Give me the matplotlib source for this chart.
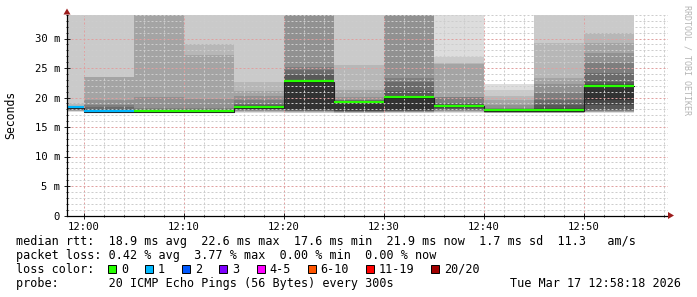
import matplotlib
matplotlib.use("Agg")
import matplotlib.pyplot as plt
from matplotlib.patches import Polygon, Rectangle
from matplotlib.ticker import MultipleLocator
import numpy as np

# ---------------- data ----------------
# segment start / end in minutes after 12:00 (300 s steps)
seg_start = [-1.7, 0, 5, 10, 15, 20, 25, 30, 35, 40, 45, 50]
seg_end = [0, 5, 10, 15, 20, 25, 30, 35, 40, 45, 50, 55]
median_rtt = [18.3, 17.6, 17.6, 17.6, 18.3, 22.6, 19.2, 20.0, 18.5, 17.7, 17.7, 21.9]
loss_count = [1, 1, 0, 0, 0, 0, 0, 0, 0, 0, 0, 0]

# 20 sorted ping rtts (ms) per step
p_1158 = [17.6, 17.65, 17.7, 17.75, 17.8, 17.85, 17.9, 18.0, 18.1, 18.2,
          18.33, 18.35, 18.38, 18.4, 18.45, 18.5, 18.6, 19.1, 35, 36]
p_1200 = [17.3, 17.35, 17.4, 17.4, 17.45, 17.45, 17.5, 17.5, 17.55, 17.6,
          17.85, 17.95, 18.1, 18.4, 18.7, 19.5, 23.4, 23.5, 35, 36]
p_1205 = [17.3, 17.35, 17.4, 17.4, 17.45, 17.45, 17.5, 17.5, 17.55, 17.6,
          17.7, 17.8, 17.9, 18.0, 18.2, 20.0, 35, 35, 36, 36]
p_1210 = [17.3, 17.35, 17.4, 17.4, 17.45, 17.45, 17.5, 17.5, 17.55, 17.6,
          17.7, 17.8, 17.9, 18.0, 18.2, 19.7, 27.2, 29.0, 35, 36]
p_1215 = [17.4, 17.55, 17.6, 17.7, 17.75, 17.8, 17.9, 18.0, 18.1, 18.2,
          18.4, 18.5, 18.7, 18.9, 19.6, 20.3, 21.1, 22.7, 35, 36]
p_1220 = [17.3, 17.45, 17.55, 17.6, 17.65, 17.7, 17.75, 17.8, 17.9, 18.0,
          22.8, 23.0, 23.8, 24.7, 25.1, 35, 35, 35, 36, 36]
p_1225 = [17.3, 17.4, 17.45, 17.5, 17.55, 17.6, 17.65, 17.7, 17.75, 17.8,
          19.3, 19.4, 19.45, 19.5, 19.6, 20.0, 21.3, 25.5, 35, 36]
p_1230 = [17.35, 17.45, 17.5, 17.55, 17.6, 17.65, 17.7, 17.75, 17.8, 17.9,
          20.1, 20.25, 21.1, 22.7, 23.25, 35, 35, 35, 36, 36]
p_1235 = [17.4, 17.5, 17.6, 17.65, 17.7, 17.8, 17.9, 18.0, 18.2, 18.4,
          18.7, 18.8, 18.9, 19.0, 20.0, 20.1, 25.7, 25.8, 26.9, 36]
p_1240 = [17.3, 17.35, 17.4, 17.45, 17.5, 17.5, 17.55, 17.6, 17.65, 17.7,
          17.8, 17.85, 17.9, 18.0, 18.2, 18.7, 19.5, 20.25, 21.3, 22.3]
p_1245 = [17.3, 17.35, 17.4, 17.45, 17.5, 17.5, 17.55, 17.6, 17.65, 17.7,
          18.0, 18.2, 18.7, 19.6, 20.7, 22.3, 23.25, 29.2, 35, 36]
p_1250 = [17.4, 17.5, 17.55, 17.6, 17.65, 17.7, 17.8, 17.9, 18.7, 19.6,
          22.1, 22.3, 22.7, 24.1, 25.8, 27.5, 29.2, 31.0, 35, 36]
pings = [p_1158, p_1200, p_1205, p_1210, p_1215, p_1220,
         p_1225, p_1230, p_1235, p_1240, p_1245, p_1250]

x_ticks = [0, 10, 20, 30, 40, 50]
x_labels = ["12:00", "12:10", "12:20", "12:30", "12:40", "12:50"]
y_ticks = [0, 5, 10, 15, 20, 25, 30]
y_labels = ["0", "5 m", "10 m", "15 m", "20 m", "25 m", "30 m"]

loss_labels = ["0", "1", "2", "3", "4-5", "6-10", "11-19", "20/20"]
loss_colors = ["#26ff00", "#00b8ff", "#0059ff", "#7e00ff",
               "#ff00ff", "#ff5500", "#ff0000", "#a10000"]

rtt_avg, rtt_max, rtt_min, rtt_now, rtt_sd, rtt_ams = 18.9, 22.6, 17.6, 21.9, 1.7, 11.3
loss_avg, loss_max, loss_min, loss_now = 0.42, 3.77, 0.00, 0.00
probe_text = "20 ICMP Echo Pings (56 Bytes) every 300s"
date_text = "Tue Mar 17 12:58:18 2026"

# ---------------- figure ----------------
W, H = 697, 297
MONO = "DejaVu Sans Mono"
fig = plt.figure(figsize=(W / 100, H / 100), dpi=100)
fig.patch.set_facecolor("white")

def fx(px):
    return px / W

def fy(py):
    return 1 - py / H

L, R, T, B = 67, 668, 14.5, 215.5
ax = fig.add_axes([fx(L), fy(B), fx(R - L), (B - T) / H])
ax.set_xlim(-1.7, 58.4)
ax.set_ylim(0, (B - T) / 5.9)
ax.set_facecolor("white")

starts = np.array(seg_start, dtype=float)
widths = np.array(seg_end, dtype=float) - starts
P = np.array(pings, dtype=float)

# smoke: band i covers ping[i] .. ping[19-i]
half = 10
for i in range(half):
    g = int(190 / half * (half - (i + 1))) + 50
    col = "#%02x%02x%02x" % (g, g, g)
    lo = P[:, i]
    hi = P[:, 19 - i]
    ax.bar(starts, hi - lo, bottom=lo, width=widths, align="edge",
           color=col, linewidth=0, zorder=1 + i * 0.01)

# median: dark step line + colored band by loss
xs = list(seg_start) + [seg_end[-1]]
ys = list(median_rtt) + [median_rtt[-1]]
ax.step(xs, ys, where="post", color="#202020", lw=0.8, zorder=3)
seg_cols = [loss_colors[min(l, 4)] if l < 4 else loss_colors[4] for l in loss_count]
ax.hlines(np.array(median_rtt) + 0.12, seg_start, seg_end, colors=seg_cols,
          lw=1.6, zorder=4)

# grid
ax.set_xticks(x_ticks)
ax.set_xticklabels(x_labels)
ax.set_yticks(y_ticks)
ax.set_yticklabels(y_labels)
ax.xaxis.set_minor_locator(MultipleLocator(2))
ax.yaxis.set_minor_locator(MultipleLocator(1))
ax.set_axisbelow(False)
ax.grid(which="minor", color="#cdcdcd", linestyle=(0, (2, 2)), lw=0.72)
ax.grid(which="major", color="#e0a0a0", linestyle=(0, (2, 2)), lw=0.72)

for s in ["top", "right"]:
    ax.spines[s].set_visible(False)
for s in ["left", "bottom"]:
    ax.spines[s].set_color("#000000")
    ax.spines[s].set_linewidth(0.9)
    ax.spines[s].set_zorder(5)

ax.tick_params(which="both", direction="inout", colors="#000000",
               labelsize=7.6, width=0.6)
ax.tick_params(which="major", length=4)
ax.tick_params(which="minor", length=2)
ax.tick_params(axis="x", pad=2.5)
ax.tick_params(axis="y", pad=3)
for lab in ax.get_xticklabels() + ax.get_yticklabels():
    lab.set_family(MONO)

# arrows
arrow_col = "#9c1c1c"
fig.add_artist(Polygon([(fx(L - 3.5), fy(T)), (fx(L + 3.5), fy(T)), (fx(L), fy(T - 6))],
                       closed=True, transform=fig.transFigure, color=arrow_col, lw=0))
fig.add_artist(Polygon([(fx(R), fy(B - 3.5)), (fx(R), fy(B + 3.5)), (fx(R + 6), fy(B))],
                       closed=True, transform=fig.transFigure, color=arrow_col, lw=0))

# y label and watermark
fig.text(fx(11), fy(115), "Seconds", rotation=90, ha="center", va="center",
         family=MONO, fontsize=8.3)
fig.text(fx(687), fy(5), "RRDTOOL / TOBI OETIKER", rotation=270, ha="center", va="top",
         family=MONO, fontsize=6, color="#b4b4b4")

# legend text
fs = 8.5
line1 = ("median rtt:  %.1f ms avg  %.1f ms max  %.1f ms min  %.1f ms now  %.1f ms sd  %.1f   am/s"
         % (rtt_avg, rtt_max, rtt_min, rtt_now, rtt_sd, rtt_ams))
line2 = ("packet loss: %.2f %% avg  %.2f %% max  %.2f %% min  %.2f %% now"
         % (loss_avg, loss_max, loss_min, loss_now))
fig.text(fx(16), fy(241), line1, ha="left", va="center", family=MONO, fontsize=fs)
fig.text(fx(16), fy(255.5), line2, ha="left", va="center", family=MONO, fontsize=fs)
fig.text(fx(16), fy(269.3), "loss color:", ha="left", va="center", family=MONO, fontsize=fs)
bx = 108.3
for lab, c in zip(loss_labels, loss_colors):
    fig.add_artist(Rectangle((fx(bx), fy(273.3)), 8 / W, 8 / H, transform=fig.transFigure,
                             facecolor=c, edgecolor="#000000", lw=0.7))
    fig.text(fx(bx + 12.7), fy(269.3), lab, ha="left", va="center", family=MONO, fontsize=fs)
    bx += 30 + len(lab) * 7.05
fig.text(fx(16), fy(283.3), "probe:       " + probe_text, ha="left", va="center",
         family=MONO, fontsize=fs)
fig.text(fx(681), fy(283.3), date_text, ha="right", va="center", family=MONO, fontsize=fs)

fig.savefig("out.png", dpi=100, facecolor="white")
